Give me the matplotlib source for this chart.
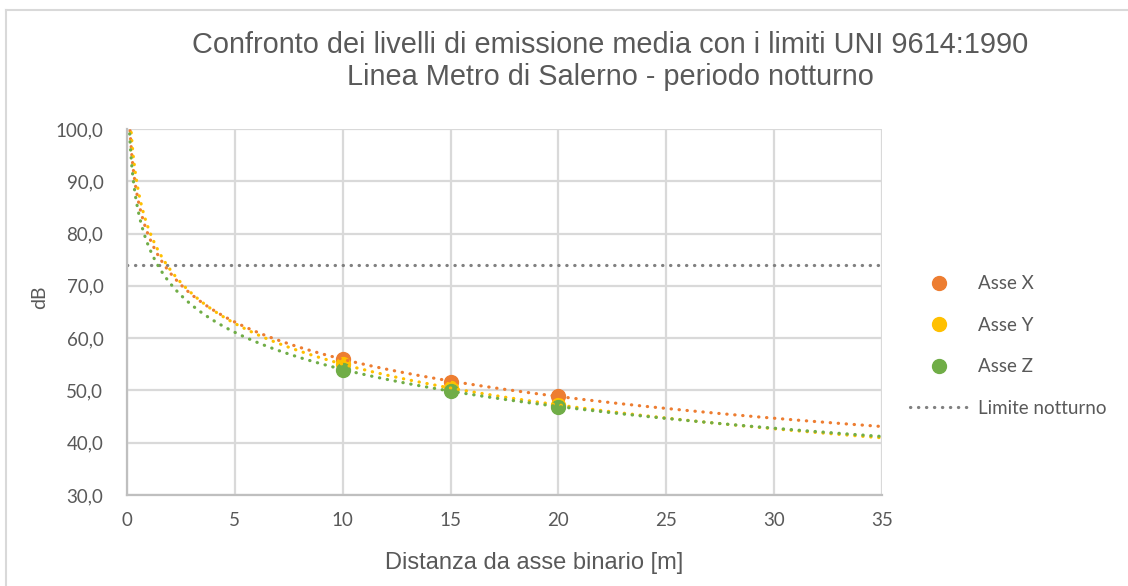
import numpy as np
import matplotlib
matplotlib.use("Agg")
import matplotlib.pyplot as plt
from matplotlib.lines import Line2D
from matplotlib.ticker import FuncFormatter

# dati misurati (dB) alle varie distanze dall'asse binario
distanze = [10, 15, 20]
asse_x = [56.0, 51.7, 48.9]
asse_y = [55.0, 50.5, 47.2]
asse_z = [54.0, 49.9, 46.9]
limite_notturno = 74.0

serie = [("Asse X", asse_x, "#ED7D31"),
         ("Asse Y", asse_y, "#FFC000"),
         ("Asse Z", asse_z, "#70AD47")]

narrow = ["Liberation Sans Narrow", "Liberation Sans", "DejaVu Sans"]
calibri = ["Lato", "DejaVu Sans"]
testo = "#595959"
griglia = "#d9d9d9"
dots = (0, (0.1, 2.4))
lw_dot = 2.3

fig = plt.figure(figsize=(11.28, 5.86), dpi=100)
ax = fig.add_axes([127 / 1128, 1 - 495 / 586, 755 / 1128, 366 / 586])

# linea limite
ax.plot([0, 35], [limite_notturno, limite_notturno], color="#808080",
        lw=lw_dot, linestyle=dots, dash_capstyle="round", zorder=2)

# punti misurati
d = np.array(distanze, dtype=float)
for nome, valori, col in serie:
    ax.plot(d, valori, "o", color=col, ms=10, zorder=3)

# linee di tendenza logaritmiche (come in Excel)
xx = np.linspace(0.05, 35, 800)
for nome, valori, col in serie:
    b, a = np.polyfit(np.log(d), valori, 1)
    ax.plot(xx, a + b * np.log(xx), color=col, lw=lw_dot, linestyle=dots,
            dash_capstyle="round", zorder=4)

ax.set_xlim(0, 35)
ax.set_ylim(30, 100)
ax.set_xticks(range(0, 36, 5))
ax.set_yticks(range(30, 101, 10))
ax.yaxis.set_major_formatter(FuncFormatter(lambda v, p: f"{v:.1f}".replace(".", ",")))
ax.grid(True, color=griglia, lw=1.6)
ax.set_axisbelow(True)
for s in ["top", "right"]:
    ax.spines[s].set_visible(False)
for s in ["left", "bottom"]:
    ax.spines[s].set_color("#bfbfbf")
    ax.spines[s].set_linewidth(1.6)
ax.tick_params(length=0, colors=testo, labelsize=13.5)
ax.tick_params(axis="y", pad=17)
ax.tick_params(axis="x", pad=12)
for lab in ax.get_xticklabels() + ax.get_yticklabels():
    lab.set_family(calibri)

fig.text(40 / 1128, 1 - 297 / 586, "dB", rotation=90, ha="center", va="center",
         color=testo, fontsize=14, family=calibri)
fig.text(534 / 1128, 1 - 563 / 586, "Distanza da asse binario [m]", ha="center",
         va="center", color=testo, fontsize=17, family=narrow)

fig.text(610 / 1128, 1 - 45 / 586, "Confronto dei livelli di emissione media con i limiti UNI 9614:1990",
         ha="center", va="center", color=testo, fontsize=20.8, family=narrow)
fig.text(610 / 1128, 1 - 77 / 586, "Linea Metro di Salerno - periodo notturno",
         ha="center", va="center", color=testo, fontsize=20.8, family=narrow)

handles = [Line2D([], [], marker="o", ls="none", color=c, ms=10) for _, _, c in serie]
handles.append(Line2D([], [], color="#808080", lw=lw_dot, linestyle=dots, dash_capstyle="round"))
labels = [n for n, _, _ in serie] + ["Limite notturno"]
fig.legend(handles, labels, loc="center left", bbox_to_anchor=(893 / 1128, 1 - 346 / 586),
           frameon=False, labelcolor=testo, handlelength=3.1,
           labelspacing=1.3, handletextpad=0.55, prop={"family": calibri, "size": 13.5})

# cornice del grafico
fig.add_artist(Line2D([6 / 1128, 6 / 1128], [0, 1 - 10 / 586], color=griglia, lw=1.5))
fig.add_artist(Line2D([6 / 1128, 1], [1 - 10 / 586, 1 - 10 / 586], color=griglia, lw=1.5))

fig.savefig("out.png", dpi=100, facecolor="white")
